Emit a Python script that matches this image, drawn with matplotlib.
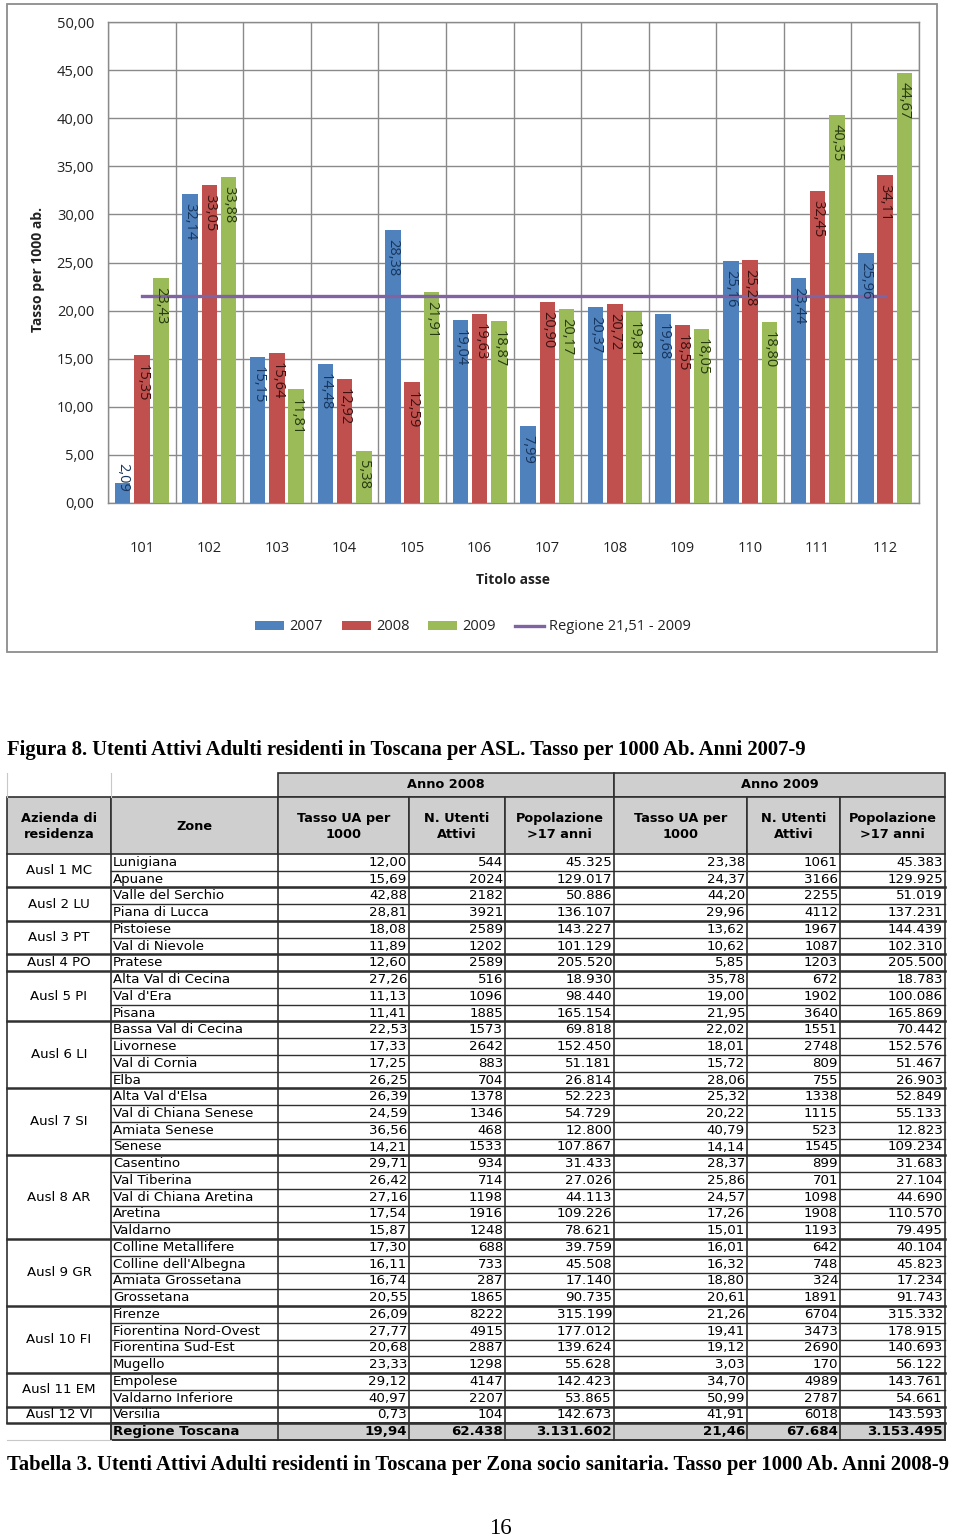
import numpy as np
import matplotlib.pyplot as plt
from matplotlib.patches import Rectangle

W, H = 960, 1540

# --- dati grafico (Figura 8) ---
categorie = ['101', '102', '103', '104', '105', '106', '107', '108', '109', '110', '111', '112']
val_2007 = [2.09, 32.14, 15.15, 14.48, 28.38, 19.04, 7.99, 20.37, 19.68, 25.16, 23.44, 25.96]
val_2008 = [15.35, 33.05, 15.64, 12.92, 12.59, 19.63, 20.90, 20.72, 18.55, 25.28, 32.45, 34.11]
val_2009 = [23.43, 33.88, 11.81, 5.38, 21.91, 18.87, 20.17, 19.81, 18.05, 18.80, 40.35, 44.67]
regione_2009 = [21.51, 21.51, 21.51, 21.51, 21.51, 21.51, 21.51, 21.51, 21.51, 21.51, 21.51, 21.51]
serie_nomi = ['2007', '2008', '2009', 'Regione 21,51 - 2009']
y_ticks = [0, 5, 10, 15, 20, 25, 30, 35, 40, 45, 50]
y_tick_labels = ['0,00', '5,00', '10,00', '15,00', '20,00', '25,00', '30,00', '35,00', '40,00', '45,00', '50,00']

# --- dati tabella (Tabella 3) ---
aziende = ['Ausl 1 MC', 'Ausl 2 LU', 'Ausl 3 PT', 'Ausl 4 PO', 'Ausl 5 PI', 'Ausl 6 LI',
           'Ausl 7 SI', 'Ausl 8 AR', 'Ausl 9 GR', 'Ausl 10 FI', 'Ausl 11 EM', 'Ausl 12 VI']
zone_per_azienda = [2, 2, 2, 1, 3, 4, 4, 5, 4, 4, 2, 1]
zone = ['Lunigiana', 'Apuane', 'Valle del Serchio', 'Piana di Lucca', 'Pistoiese', 'Val di Nievole',
        'Pratese', 'Alta Val di Cecina', "Val d'Era", 'Pisana', 'Bassa Val di Cecina', 'Livornese',
        'Val di Cornia', 'Elba', "Alta Val d'Elsa", 'Val di Chiana Senese', 'Amiata Senese', 'Senese',
        'Casentino', 'Val Tiberina', 'Val di Chiana Aretina', 'Aretina', 'Valdarno',
        'Colline Metallifere', "Colline dell'Albegna", 'Amiata Grossetana', 'Grossetana',
        'Firenze', 'Fiorentina Nord-Ovest', 'Fiorentina Sud-Est', 'Mugello', 'Empolese',
        'Valdarno Inferiore', 'Versilia']
tasso_2008 = [12.00, 15.69, 42.88, 28.81, 18.08, 11.89, 12.60, 27.26, 11.13, 11.41, 22.53, 17.33,
              17.25, 26.25, 26.39, 24.59, 36.56, 14.21, 29.71, 26.42, 27.16, 17.54, 15.87, 17.30,
              16.11, 16.74, 20.55, 26.09, 27.77, 20.68, 23.33, 29.12, 40.97, 0.73]
utenti_2008 = [544, 2024, 2182, 3921, 2589, 1202, 2589, 516, 1096, 1885, 1573, 2642, 883, 704,
               1378, 1346, 468, 1533, 934, 714, 1198, 1916, 1248, 688, 733, 287, 1865, 8222,
               4915, 2887, 1298, 4147, 2207, 104]
pop_2008 = [45325, 129017, 50886, 136107, 143227, 101129, 205520, 18930, 98440, 165154, 69818,
            152450, 51181, 26814, 52223, 54729, 12800, 107867, 31433, 27026, 44113, 109226,
            78621, 39759, 45508, 17140, 90735, 315199, 177012, 139624, 55628, 142423, 53865, 142673]
tasso_2009 = [23.38, 24.37, 44.20, 29.96, 13.62, 10.62, 5.85, 35.78, 19.00, 21.95, 22.02, 18.01,
              15.72, 28.06, 25.32, 20.22, 40.79, 14.14, 28.37, 25.86, 24.57, 17.26, 15.01, 16.01,
              16.32, 18.80, 20.61, 21.26, 19.41, 19.12, 3.03, 34.70, 50.99, 41.91]
utenti_2009 = [1061, 3166, 2255, 4112, 1967, 1087, 1203, 672, 1902, 3640, 1551, 2748, 809, 755,
               1338, 1115, 523, 1545, 899, 701, 1098, 1908, 1193, 642, 748, 324, 1891, 6704,
               3473, 2690, 170, 4989, 2787, 6018]
pop_2009 = [45383, 129925, 51019, 137231, 144439, 102310, 205500, 18783, 100086, 165869, 70442,
            152576, 51467, 26903, 52849, 55133, 12823, 109234, 31683, 27104, 44690, 110570,
            79495, 40104, 45823, 17234, 91743, 315332, 178915, 140693, 56122, 143761, 54661, 143593]
totale = ['Regione Toscana', 19.94, 62438, 3131602, 21.46, 67684, 3153495]

intest_anni = ['Anno 2008', 'Anno 2009']
intest_col = ['Azienda di\nresidenza', 'Zone', 'Tasso UA per\n1000', 'N. Utenti\nAttivi',
              'Popolazione\n>17 anni', 'Tasso UA per\n1000', 'N. Utenti\nAttivi', 'Popolazione\n>17 anni']

didascalia_fig = 'Figura 8. Utenti Attivi Adulti residenti in Toscana per ASL. Tasso per 1000 Ab. Anni 2007-9'
didascalia_tab = ('Tabella 3. Utenti Attivi Adulti residenti in Toscana per Zona socio sanitaria. '
                  'Tasso per 1000 Ab. Anni 2008-9')
numero_pagina = '16'


def dec(v):
    return f'{v:.2f}'.replace('.', ',')


def mig(n):
    return f'{n:,}'.replace(',', '.')


fig = plt.figure(figsize=(W / 100, H / 100), dpi=100, facecolor='white')

# axes "pagina" in coordinate pixel
page = fig.add_axes([0, 0, 1, 1])
page.set_xlim(0, W)
page.set_ylim(H, 0)
page.axis('off')


def px_axes(x0, y0, x1, y1):
    return fig.add_axes([x0 / W, 1 - y1 / H, (x1 - x0) / W, (y1 - y0) / H])


# ---------------- grafico ----------------
chart_font = ['Open Sans', 'DejaVu Sans']
ax = px_axes(108, 22, 919, 503)
ax.set_facecolor('white')
x = np.arange(len(categorie))
colori = ['#4F81BD', '#C0504D', '#9BBB59']
colori_testo = ['#17365D', '#3B1211', '#263A10']
offsets = [-0.285, 0.0, 0.285]
handles = []
for vals, off, c, tc in zip([val_2007, val_2008, val_2009], offsets, colori, colori_testo):
    b = ax.bar(x + off, vals, width=0.23, color=c, zorder=3)
    handles.append(b)
    for xi, v in zip(x, vals):
        if v < 4:
            ax.annotate(dec(v), (xi + off, 0), xytext=(0, 8), textcoords='offset points',
                        rotation=270, ha='center', va='bottom', fontsize=10.5,
                        family=chart_font, color=tc, zorder=6)
        else:
            ax.annotate(dec(v), (xi + off, v), xytext=(0, -6.5), textcoords='offset points',
                        rotation=270, ha='center', va='top', fontsize=10.5,
                        family=chart_font, color=tc, zorder=6)
linea, = ax.plot(x, regione_2009, color='#8064A2', lw=2.4, zorder=4)
handles.append(linea)

ax.set_xlim(-0.5, len(categorie) - 0.5)
ax.set_ylim(0, 50)
ax.set_yticks(y_ticks, y_tick_labels)
ax.set_xticks(x, categorie)
ax.set_xticks(np.arange(-0.5, len(categorie), 1), minor=True)
ax.set_axisbelow(True)
ax.yaxis.grid(True, color='#8a8a8a', lw=1.0)
ax.xaxis.grid(True, which='minor', color='#8a8a8a', lw=1.0)
ax.tick_params(axis='both', which='both', length=0)
ax.tick_params(axis='y', pad=10, labelsize=10.5, labelcolor='#222222')
ax.tick_params(axis='x', pad=27, labelsize=10.5, labelcolor='#222222')
for lab in ax.get_xticklabels() + ax.get_yticklabels():
    lab.set_family(chart_font)
for s in ax.spines.values():
    s.set_color('#8a8a8a')
    s.set_linewidth(1.0)

page.add_patch(Rectangle((7, 4), 930, 648, fill=False, ec='#8c8c8c', lw=1.3))
page.text(38, 270, 'Tasso per 1000 ab.', rotation=90, ha='center', va='center',
          fontsize=10, weight='bold', family=chart_font, color='#222222')
page.text(513, 580, 'Titolo asse', ha='center', va='center', fontsize=10,
          weight='bold', family=chart_font, color='#222222')
fig.legend(handles, serie_nomi, loc='center', bbox_to_anchor=(473 / W, 1 - 627 / H), ncol=4,
           frameon=False, prop={'family': chart_font, 'size': 10.5}, handlelength=2.0,
           handleheight=0.65, handletextpad=0.35, columnspacing=1.3, labelcolor='#222222')

# ---------------- didascalie ----------------
page.text(7, 750, didascalia_fig, ha='left', va='center', fontsize=14.9, weight='bold',
          family='Liberation Serif')
page.text(7, 1465, didascalia_tab, ha='left', va='center', fontsize=14.9, weight='bold',
          family='Liberation Serif')
page.text(500, 1528, numero_pagina, ha='center', va='center', fontsize=16.5, family='Liberation Serif')

# ---------------- tabella ----------------
col_x = [7, 111, 278, 409, 505, 614, 747, 840, 945]
y_h1, y_h2, y_d = 773, 797, 854
rh = (1440 - y_d) / (len(zone) + 1)
grigio = '#cfcfcf'
bordo = '#303030'
tf = 'DejaVu Sans'
fs = 9.6

# riga intestazione anni
page.plot([col_x[0], col_x[0]], [y_h1, y_h2], color='#c8c8c8', lw=0.8)
page.plot([col_x[1], col_x[1]], [y_h1, y_h2], color='#c8c8c8', lw=0.8)
for k, nome in enumerate(intest_anni):
    xa, xb = col_x[2 + 3 * k], col_x[5 + 3 * k]
    page.add_patch(Rectangle((xa, y_h1), xb - xa, y_h2 - y_h1, fc=grigio, ec=bordo, lw=1.2))
    page.text((xa + xb) / 2, (y_h1 + y_h2) / 2, nome, ha='center', va='center',
              fontsize=9.3, weight='bold', family=tf)
# riga intestazione colonne
for c, nome in enumerate(intest_col):
    xa, xb = col_x[c], col_x[c + 1]
    page.add_patch(Rectangle((xa, y_h2), xb - xa, y_d - y_h2, fc=grigio, ec=bordo, lw=1.2))
    page.text((xa + xb) / 2, (y_h2 + y_d) / 2 + 1, nome, ha='center', va='center',
              fontsize=9.3, weight='bold', family=tf, linespacing=1.25)

# righe dati
colonne = [tasso_2008, utenti_2008, pop_2008, tasso_2009, utenti_2009, pop_2009]
formati = [dec, str, mig, dec, str, mig]
for i, nome in enumerate(zone):
    y0 = y_d + i * rh
    yc = y0 + rh / 2
    page.text(col_x[1] + 2, yc, nome, ha='left', va='center', fontsize=fs, family=tf)
    for c, (col, f) in enumerate(zip(colonne, formati)):
        page.text(col_x[c + 3] - 2, yc, f(col[i]), ha='right', va='center', fontsize=fs, family=tf)
    page.plot([col_x[1], col_x[-1]], [y0 + rh, y0 + rh], color=bordo, lw=1.0)

# aziende (celle unite)
r = 0
for nome, n in zip(aziende, zone_per_azienda):
    ya = y_d + r * rh
    yb = y_d + (r + n) * rh
    page.text((col_x[0] + col_x[1]) / 2, (ya + yb) / 2, nome, ha='center', va='center',
              fontsize=fs, family=tf)
    page.plot([col_x[0], col_x[-1]], [yb, yb], color=bordo, lw=1.8)
    r += n

y_tot = y_d + len(zone) * rh
for xv in col_x:
    page.plot([xv, xv], [y_d, y_tot], color=bordo, lw=1.2)

# riga totale
page.add_patch(Rectangle((col_x[1], y_tot), col_x[-1] - col_x[1], rh, fc=grigio, ec=bordo, lw=1.4))
for xv in col_x[2:-1]:
    page.plot([xv, xv], [y_tot, y_tot + rh], color=bordo, lw=1.2)
page.plot([col_x[0], col_x[1]], [y_tot + rh, y_tot + rh], color='#c8c8c8', lw=0.8)
page.text(col_x[1] + 2, y_tot + rh / 2, totale[0], ha='left', va='center', fontsize=fs,
          weight='bold', family=tf)
for c, (v, f) in enumerate(zip(totale[1:], [dec, mig, mig, dec, mig, mig])):
    page.text(col_x[c + 3] - 2, y_tot + rh / 2, f(v), ha='right', va='center', fontsize=fs,
              weight='bold', family=tf)

fig.savefig('out.png', dpi=100, facecolor='white')
